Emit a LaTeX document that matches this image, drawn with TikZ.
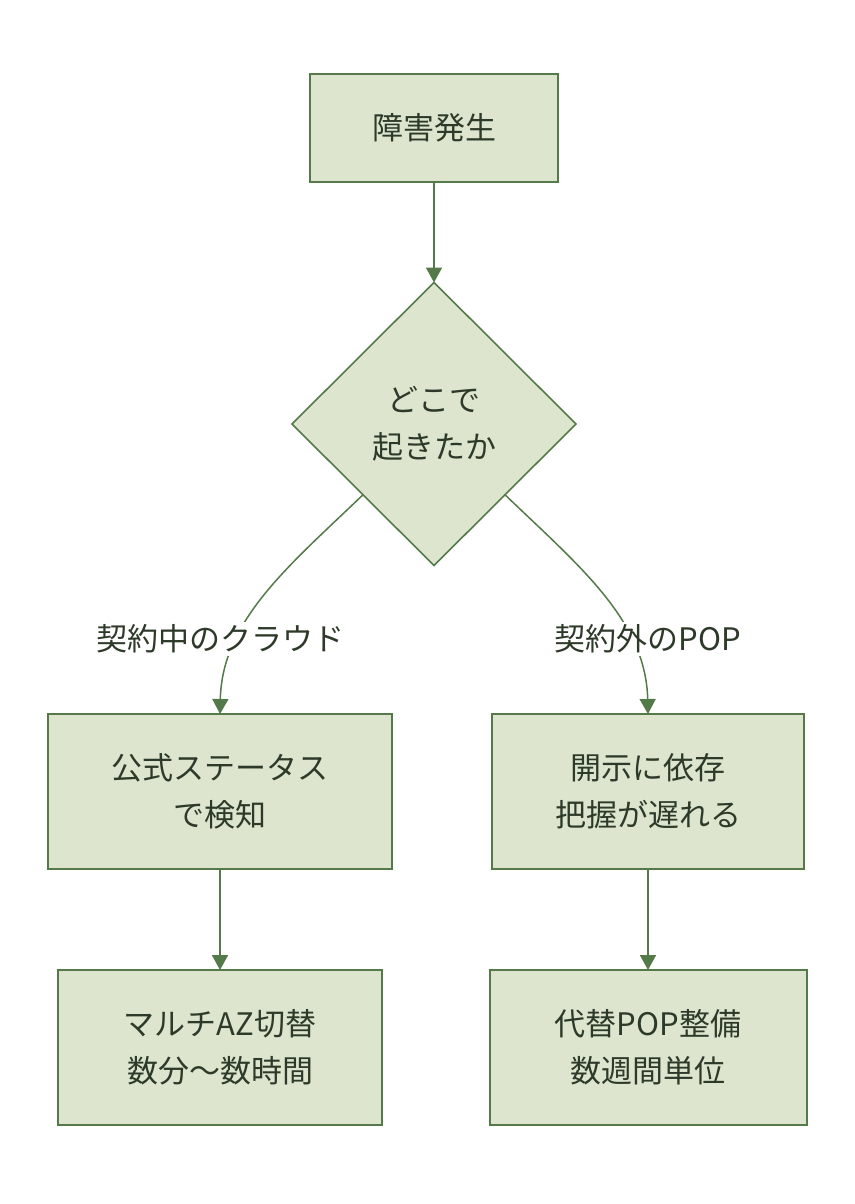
\documentclass[tikz,border=0pt]{standalone}
\usepackage{fontspec}
\setmainfont{Noto Sans CJK JP}
\usetikzlibrary{shapes.geometric,arrows.meta,calc}
\definecolor{bd}{HTML}{557A4A}
\definecolor{fl}{HTML}{DDE5CF}
\definecolor{tx}{HTML}{2E3A29}
\begin{document}
\begin{tikzpicture}[x=1pt,y=-1pt,
  txt/.style={text=tx,font=\fontsize{31}{47}\selectfont,align=center},
  box/.style={txt,rectangle,draw=bd,fill=fl,line width=2pt,inner sep=0pt,outer sep=0pt},
  dia/.style={txt,diamond,draw=bd,fill=fl,line width=1.6pt,inner sep=0pt,outer sep=0pt,minimum width=284pt,minimum height=283pt},
  lbl/.style={txt,fill=white,inner sep=3pt},
  conn/.style={draw=bd,line width=1.7pt,-{Triangle[width=16pt,length=15pt]}},
  curv/.style={draw=bd,line width=1.5pt,-{Triangle[width=16pt,length=15pt]}}
]
\useasboundingbox[fill=white] (0,0) rectangle (854,1204);
\node[box,minimum width=248pt,minimum height=108pt] (top) at (434,128) {障害発生};
\node[dia] (d) at (434,424) {どこで\\起きたか};
\node[box,minimum width=344pt,minimum height=155pt] (lm) at (220,791.5) {公式ステータス\\で検知};
\node[box,minimum width=312pt,minimum height=155pt] (rm) at (648,791.5) {開示に依存\\把握が遅れる};
\node[box,minimum width=324pt,minimum height=155pt] (lb) at (220,1047.5) {マルチAZ切替\\数分〜数時間};
\node[box,minimum width=317pt,minimum height=155pt] (rb) at (648,1047.5) {代替POP整備\\数週間単位};
\coordinate (dl) at ($(d.west)!0.5!(d.south)$);
\coordinate (dr) at ($(d.east)!0.5!(d.south)$);
\draw[conn] (top.south) -- (d.north);
\draw[curv] (dl) .. controls (290,565) and (222,620) .. (lm.north);
\draw[curv] (dr) .. controls (578,565) and (646,620) .. (rm.north);
\draw[conn] (lm.south) -- (lb.north);
\draw[conn] (rm.south) -- (rb.north);
\node[lbl] (l1) at (220,639) {契約中のクラウド};
\node[lbl] (l2) at (648,639) {契約外のPOP};
\end{tikzpicture}
\end{document}
